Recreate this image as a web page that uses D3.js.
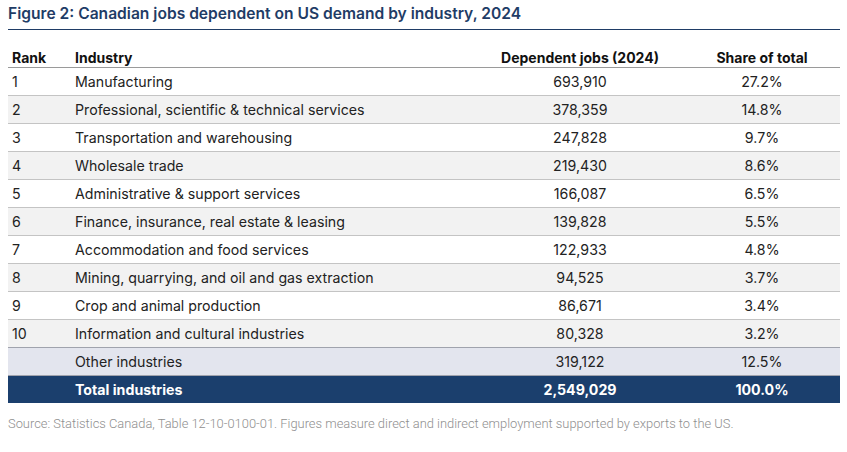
<!DOCTYPE html>
<html>
<head>
<meta charset="utf-8">
<script src="https://cdn.jsdelivr.net/npm/d3@7"></script>
<style>
  body { margin: 0; background: #fff; }
  svg { display: block; }
</style>
</head>
<body>
<svg width="847" height="452"></svg>
<script>
const ranks = ["1", "2", "3", "4", "5", "6", "7", "8", "9", "10", "", ""];
const industries = [
  "Manufacturing",
  "Professional, scientific & technical services",
  "Transportation and warehousing",
  "Wholesale trade",
  "Administrative & support services",
  "Finance, insurance, real estate & leasing",
  "Accommodation and food services",
  "Mining, quarrying, and oil and gas extraction",
  "Crop and animal production",
  "Information and cultural industries",
  "Other industries",
  "Total industries"
];
const jobs = [693910, 378359, 247828, 219430, 166087, 139828, 122933, 94525, 86671, 80328, 319122, 2549029];
const shares = [27.2, 14.8, 9.7, 8.6, 6.5, 5.5, 4.8, 3.7, 3.4, 3.2, 12.5, 100.0];
const headers = ["Rank", "Industry", "Dependent jobs (2024)", "Share of total"];

const left = 8, right = 840;
const svg = d3.select("svg");
const font = "Inter, 'Noto Sans', sans-serif";

const rows = industries.map((d, i) => ({
  rank: ranks[i], name: d, jobs: jobs[i], share: shares[i], i
}));

let y = d3.scaleBand()
  .domain(d3.range(rows.length))
  .range([67, 403]);

// column anchors
let cols = [
  { x: 12, anchor: "start" },
  { x: 75, anchor: "start" },
  { x: 580, anchor: "middle" },
  { x: 762, anchor: "middle" }
];

svg.append("text")
  .attr("x", left)
  .attr("y", 19)
  .style("font-family", font)
  .style("font-size", "15.6px")
  .style("font-weight", 600)
  .style("fill", "#1f3c66")
  .text("Figure 2: Canadian jobs dependent on US demand by industry, 2024");

svg.append("line")
  .attr("x1", left).attr("x2", right)
  .attr("y1", 29.5).attr("y2", 29.5)
  .style("stroke", "#1f3c66")
  .style("stroke-width", 1);

// header
svg.append("g")
  .selectAll("text")
  .data(headers)
  .join("text")
  .attr("x", (d, i) => cols[i].x)
  .attr("y", 63)
  .attr("text-anchor", (d, i) => cols[i].anchor)
  .style("font-family", font)
  .style("font-size", "14px")
  .style("font-weight", 700)
  .style("fill", "#111")
  .text((d) => d);

function rowFill(d) {
  if (d.i === 11) return "#1b3f6d";
  if (d.i === 10) return "#e3e5ee";
  return d.i % 2 === 1 ? "#f2f2f2" : "#ffffff";
}

let g = svg.append("g")
  .selectAll("g")
  .data(rows)
  .join("g")
  .attr("transform", (d) => `translate(0,${y(d.i)})`);

g.append("rect")
  .attr("x", left)
  .attr("width", right - left)
  .attr("height", y.bandwidth())
  .style("fill", rowFill);

g.append("line")
  .attr("x1", left).attr("x2", right)
  .attr("y1", 0.5).attr("y2", 0.5)
  .style("stroke", (d) => d.i === 0 ? "#9a9a9a" : (d.i >= 10 ? "#a0a3ad" : "#c4c4c4"))
  .style("stroke-width", 1);

let cellText = (d) => [d.rank, d.name, d3.format(",")(d.jobs), d3.format(".1f")(d.share) + "%"];

g.selectAll("text")
  .data((d) => cellText(d).map((t, j) => ({ t, j, total: d.i === 11 })))
  .join("text")
  .attr("x", (c) => cols[c.j].x)
  .attr("y", y.bandwidth() / 2 + 5.5)
  .attr("text-anchor", (c) => cols[c.j].anchor)
  .style("font-family", font)
  .style("font-size", "14.2px")
  .style("font-weight", (c) => c.total ? 700 : 400)
  .style("fill", (c) => c.total ? "#ffffff" : "#222")
  .text((c) => c.t);

svg.append("text")
  .attr("x", left)
  .attr("y", 428)
  .style("font-family", "Roboto, sans-serif")
  .style("font-size", "12.9px")
  .style("font-weight", 300)
  .style("fill", "#8f8f8f")
  .text("Source: Statistics Canada, Table 12-10-0100-01. Figures measure direct and indirect employment supported by exports to the US.");
</script>
</body>
</html>
